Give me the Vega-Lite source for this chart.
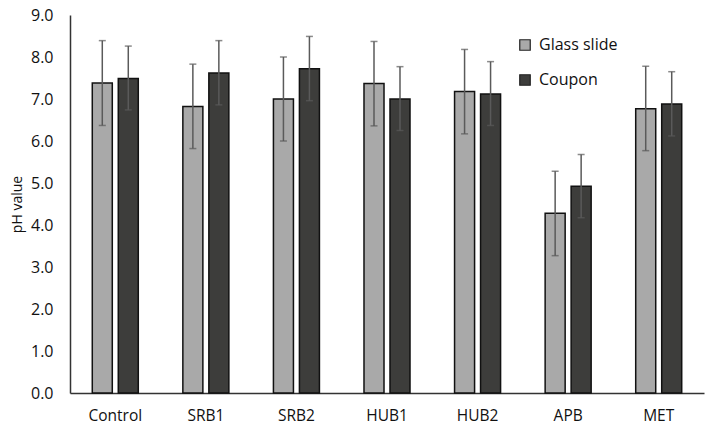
{
  "$schema": "https://vega.github.io/schema/vega-lite/v6.json",
  "width": 634,
  "height": 378,
  "autosize": "none",
  "padding": {"left": 70, "top": 15, "right": 4, "bottom": 37},
  "background": "white",
  "config": {
    "view": {"stroke": null},
    "font": "Open Sans",
    "axis": {"grid": false, "ticks": false, "domainColor": "#333", "domainWidth": 1.5, "labelColor": "#111", "titleColor": "#111"}
  },
  "data": {
    "values": [
      {"group": "Control", "surface": "Glass slide", "ph": 7.38, "lo": 6.37, "hi": 8.39},
      {"group": "Control", "surface": "Coupon", "ph": 7.49, "lo": 6.74, "hi": 8.26},
      {"group": "SRB1", "surface": "Glass slide", "ph": 6.82, "lo": 5.82, "hi": 7.83},
      {"group": "SRB1", "surface": "Coupon", "ph": 7.62, "lo": 6.86, "hi": 8.39},
      {"group": "SRB2", "surface": "Glass slide", "ph": 7.0, "lo": 6.0, "hi": 8.0},
      {"group": "SRB2", "surface": "Coupon", "ph": 7.72, "lo": 6.96, "hi": 8.49},
      {"group": "HUB1", "surface": "Glass slide", "ph": 7.37, "lo": 6.36, "hi": 8.37},
      {"group": "HUB1", "surface": "Coupon", "ph": 7.0, "lo": 6.25, "hi": 7.77},
      {"group": "HUB2", "surface": "Glass slide", "ph": 7.18, "lo": 6.17, "hi": 8.18},
      {"group": "HUB2", "surface": "Coupon", "ph": 7.12, "lo": 6.37, "hi": 7.89},
      {"group": "APB", "surface": "Glass slide", "ph": 4.28, "lo": 3.27, "hi": 5.28},
      {"group": "APB", "surface": "Coupon", "ph": 4.92, "lo": 4.17, "hi": 5.68},
      {"group": "MET", "surface": "Glass slide", "ph": 6.77, "lo": 5.77, "hi": 7.78},
      {"group": "MET", "surface": "Coupon", "ph": 6.88, "lo": 6.12, "hi": 7.65}
    ]
  },
  "encoding": {
    "x": {
      "field": "group", "type": "nominal", "sort": null,
      "scale": {"paddingInner": 0.492, "paddingOuter": 0.246},
      "axis": {"title": null, "labelAngle": 0, "labelFontSize": 15.5, "labelPadding": 15}
    },
    "xOffset": {
      "field": "surface", "type": "nominal",
      "sort": ["Glass slide", "Coupon"],
      "scale": {"paddingInner": 0.23, "paddingOuter": 0}
    }
  },
  "layer": [
    {
      "mark": {"type": "bar", "stroke": "#111", "strokeWidth": 1.5},
      "encoding": {
        "y": {
          "field": "ph", "type": "quantitative",
          "scale": {"domain": [0, 9], "nice": false},
          "axis": {"title": "pH value", "values": [0,1,2,3,4,5,6,7,8,9], "format": ".1f", "labelFontSize": 16, "labelPadding": 17, "titleFontSize": 14, "titleFontWeight": "normal", "titlePadding": 6}
        },
        "fill": {
          "field": "surface", "type": "nominal",
          "sort": ["Glass slide", "Coupon"],
          "scale": {"domain": ["Glass slide", "Coupon"], "range": ["#a9a9a9", "#3d3d3b"]},
          "legend": {
            "title": null, "orient": "none", "legendX": 447, "legendY": 22,
            "symbolType": "square", "symbolSize": 110, "symbolStrokeColor": "#222", "symbolStrokeWidth": 1.2,
            "labelFontSize": 16, "labelColor": "#111", "rowPadding": 19, "labelOffset": 6
          }
        }
      }
    },
    {
      "mark": {"type": "rule", "color": "#5a5a5a", "strokeWidth": 1.5},
      "encoding": {
        "y": {"field": "lo", "type": "quantitative"},
        "y2": {"field": "hi"}
      }
    },
    {
      "mark": {"type": "tick", "color": "#5a5a5a", "thickness": 1.5, "size": 7},
      "encoding": {"y": {"field": "hi", "type": "quantitative"}}
    },
    {
      "mark": {"type": "tick", "color": "#5a5a5a", "thickness": 1.5, "size": 7},
      "encoding": {"y": {"field": "lo", "type": "quantitative"}}
    }
  ]
}
